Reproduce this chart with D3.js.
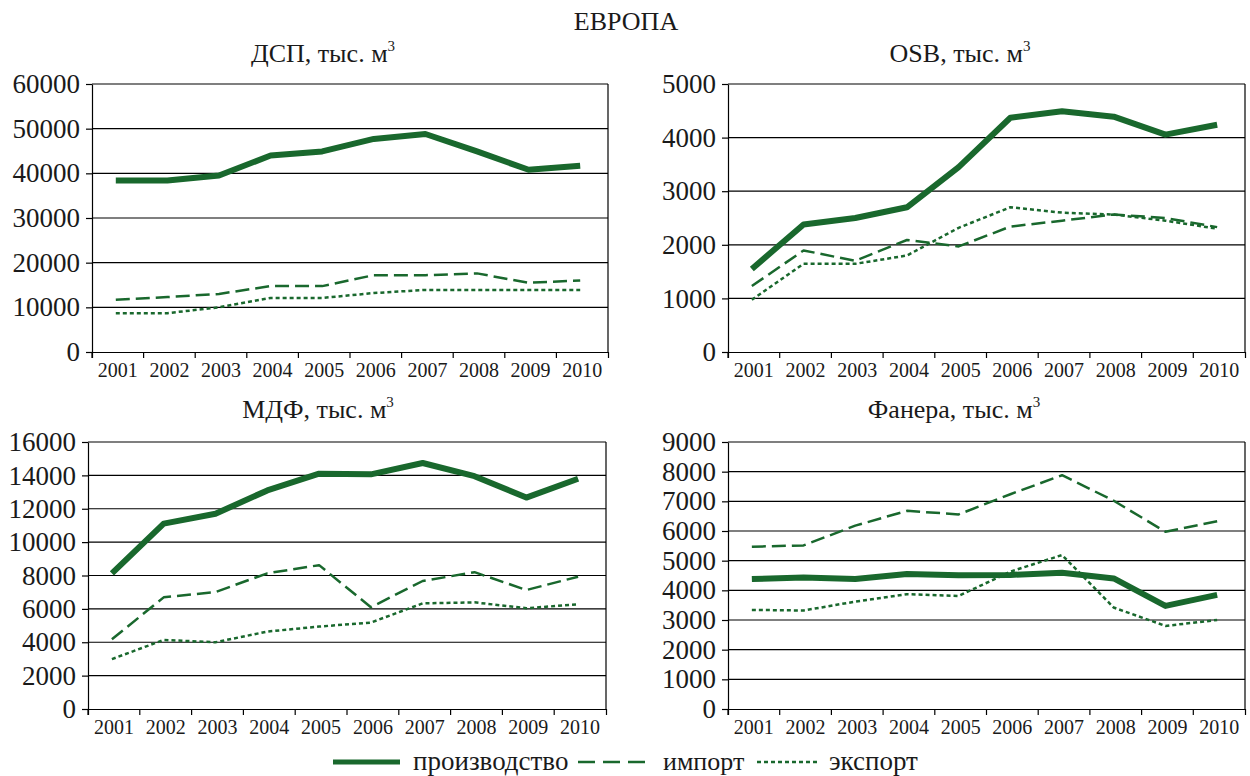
<!DOCTYPE html>
<html>
<head>
<meta charset="utf-8">
<script src="https://cdn.jsdelivr.net/npm/d3@7"></script>
<style>
  body { margin: 0; background: #fff; }
  svg text { font-family: "Liberation Serif", "Times New Roman", Times, serif; }
</style>
</head>
<body>
<script>
var years = ["2001","2002","2003","2004","2005","2006","2007","2008","2009","2010"]

// ДСП
var dspProd   = [38400, 38400, 39500, 44000, 44900, 47700, 48800, 44900, 40800, 41700]
var dspImp    = [11700, 12300, 13000, 14750, 14750, 17200, 17200, 17600, 15500, 16000]
var dspExp    = [8700, 8700, 10000, 12100, 12100, 13200, 13900, 13900, 13900, 13900]
var dspTicks  = [0, 10000, 20000, 30000, 40000, 50000, 60000]

// OSB
var osbProd   = [1550, 2380, 2500, 2700, 3450, 4370, 4490, 4390, 4055, 4240]
var osbImp    = [1230, 1895, 1700, 2090, 1970, 2340, 2450, 2565, 2500, 2330]
var osbExp    = [975, 1645, 1645, 1800, 2317, 2700, 2600, 2565, 2450, 2300]
var osbTicks  = [0, 1000, 2000, 3000, 4000, 5000]

// МДФ
var mdfProd   = [8130, 11110, 11700, 13100, 14100, 14060, 14740, 13950, 12670, 13800]
var mdfImp    = [4180, 6690, 7010, 8130, 8620, 6100, 7670, 8200, 7130, 7930]
var mdfExp    = [2990, 4140, 4000, 4640, 4940, 5180, 6330, 6390, 6040, 6270]
var mdfTicks  = [0, 2000, 4000, 6000, 8000, 10000, 12000, 14000, 16000]

// Фанера
var plyProd   = [4380, 4430, 4380, 4550, 4510, 4520, 4590, 4400, 3475, 3845]
var plyImp    = [5470, 5515, 6180, 6680, 6560, 7240, 7880, 7020, 5975, 6330]
var plyExp    = [3340, 3320, 3620, 3870, 3810, 4630, 5190, 3420, 2800, 3000]
var plyTicks  = [0, 1000, 2000, 3000, 4000, 5000, 6000, 7000, 8000, 9000]

var seriesNames = ["производство", "импорт", "экспорт"]

var green = "#19682d"
var ink = "#1a1a1a"
var styles = [
    { width: 6,   dash: null },
    { width: 2.5, dash: "14,6" },
    { width: 2.5, dash: "4,3" }
]

var panels = [
    { title: "ДСП, тыс. м", tx: 323, ty: 62,  x0: 92,  x1: 608,  y0: 84,  y1: 352, ticks: dspTicks, data: [dspProd, dspImp, dspExp] },
    { title: "OSB, тыс. м", tx: 960, ty: 62,  x0: 728, x1: 1245, y0: 84,  y1: 352, ticks: osbTicks, data: [osbProd, osbImp, osbExp] },
    { title: "МДФ, тыс. м", tx: 318, ty: 418, x0: 88,  x1: 606,  y0: 442, y1: 709, ticks: mdfTicks, data: [mdfProd, mdfImp, mdfExp] },
    { title: "Фанера, тыс. м", tx: 954, ty: 418, x0: 728, x1: 1245, y0: 442, y1: 709, ticks: plyTicks, data: [plyProd, plyImp, plyExp] }
]

var svg = d3.select("body").append("svg")
    .attr("width", 1250)
    .attr("height", 776)

svg.append("text")
    .attr("x", 626)
    .attr("y", 30)
    .attr("text-anchor", "middle")
    .style("font-size", "26px")
    .attr("fill", ink)
    .text("ЕВРОПА")

panels.forEach(function(p) {
    var x = d3.scaleBand().domain(years).range([p.x0, p.x1]).padding(0)
    var y = d3.scaleLinear().domain([0, d3.max(p.ticks)]).range([p.y1, p.y0])
    var bw = x.bandwidth()

    // title with superscript
    var t = svg.append("text")
        .attr("x", p.tx)
        .attr("y", p.ty)
        .attr("text-anchor", "middle")
        .attr("fill", ink)
        .style("font-size", "26px")
    t.append("tspan").text(p.title)
    t.append("tspan").attr("dy", -11).style("font-size", "15px").text("3")

    // gridlines
    svg.append("g").selectAll("line")
        .data(p.ticks.filter(function(d) { return d > 0 }))
        .enter().append("line")
        .attr("x1", p.x0).attr("x2", p.x1)
        .attr("y1", function(d) { return y(d) }).attr("y2", function(d) { return y(d) })
        .style("stroke", "#000")
        .style("stroke-width", 1.2)

    // right border
    svg.append("line")
        .attr("x1", p.x1).attr("x2", p.x1)
        .attr("y1", p.y0).attr("y2", p.y1)
        .style("stroke", "#000")
        .style("stroke-width", 1.2)

    // y axis
    var ya = svg.append("g")
        .attr("transform", "translate(" + p.x0 + ",0)")
        .call(d3.axisLeft(y).tickValues(p.ticks).tickSize(6).tickSizeOuter(0).tickPadding(6).tickFormat(d3.format("d")))
    ya.attr("font-family", null).attr("font-size", null)
    ya.selectAll("text").style("font-size", "27px").attr("fill", ink)
    ya.selectAll("path, line").style("stroke", "#000").style("stroke-width", 1.2)

    // x axis with ticks between categories
    var xa = svg.append("g")
        .attr("transform", "translate(0," + p.y1 + ")")
        .call(d3.axisBottom(x).tickSize(6).tickSizeOuter(6).tickPadding(5))
    xa.attr("font-family", null).attr("font-size", null)
    xa.selectAll(".tick line").attr("x1", -bw / 2).attr("x2", -bw / 2)
    xa.selectAll("text").style("font-size", "20px").attr("fill", ink)
    xa.selectAll("path, line").style("stroke", "#000").style("stroke-width", 1.2)

    // series
    var line = d3.line()
        .x(function(d, i) { return x(years[i]) + bw / 2 - 2 })
        .y(function(d) { return y(d) })

    p.data.slice().reverse().forEach(function(values, k) {
        var s = styles[2 - k]
        svg.append("path")
            .datum(values)
            .attr("d", line)
            .style("fill", "none")
            .style("stroke", green)
            .style("stroke-width", s.width)
            .style("stroke-dasharray", s.dash)
            .style("stroke-linejoin", "round")
    })
})

// legend
var legendItems = [
    { x1: 333, x2: 400, tx: 413 },
    { x1: 578, x2: 652, tx: 663 },
    { x1: 757, x2: 820, tx: 829 }
]
legendItems.forEach(function(l, i) {
    svg.append("line")
        .attr("x1", l.x1).attr("x2", l.x2)
        .attr("y1", 762).attr("y2", 762)
        .style("stroke", green)
        .style("stroke-width", i === 0 ? 5 : 2.5)
        .style("stroke-dasharray", i === 1 ? "17,8" : styles[i].dash)
    svg.append("text")
        .attr("x", l.tx)
        .attr("y", 770)
        .attr("fill", ink)
        .style("font-size", i === 1 ? "26px" : "27px")
        .text(seriesNames[i])
})
</script>
</body>
</html>
